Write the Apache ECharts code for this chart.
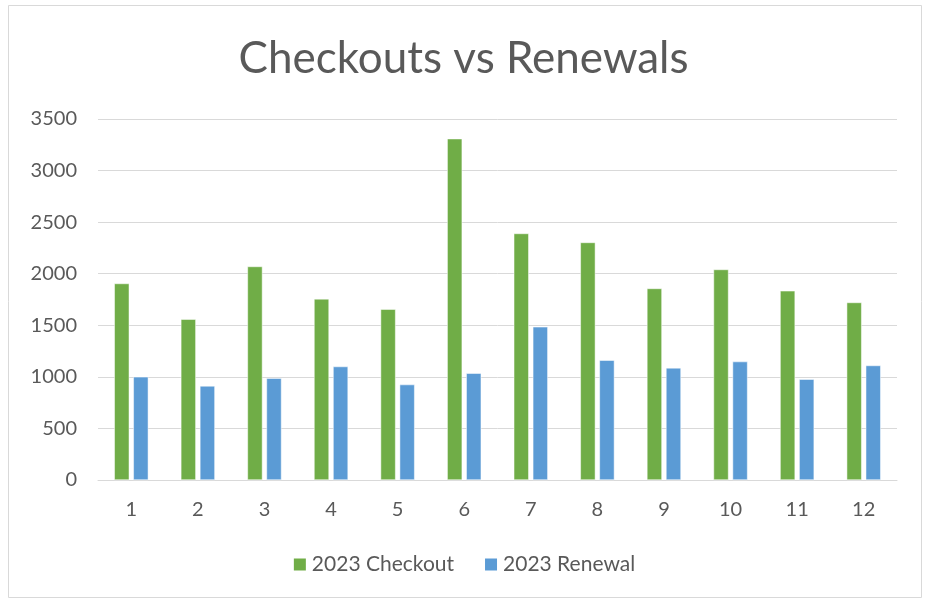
<!DOCTYPE html>
<html>
<head>
<meta charset="utf-8">
<script src="https://cdn.jsdelivr.net/npm/echarts@6/dist/echarts.min.js"></script>
<style>
html,body{margin:0;padding:0;background:#fff;}
#chart{width:927px;height:603px;}
</style>
</head>
<body>
<div id="chart"></div>
<script>
const categories = ['1','2','3','4','5','6','7','8','9','10','11','12'];
const checkout2023 = [1905, 1559, 2070, 1756, 1656, 3309, 2390, 2303, 1857, 2041, 1834, 1721];
const renewal2023 = [1000, 912, 987, 1100, 925, 1035, 1485, 1161, 1087, 1148, 977, 1110];
const yTicks = [0, 500, 1000, 1500, 2000, 2500, 3000, 3500];

const chart = echarts.init(document.getElementById('chart'));
const font = 'Lato, "Open Sans", sans-serif';
chart.setOption({
  animation: false,
  backgroundColor: '#fff',
  graphic: [{
    type: 'rect',
    shape: {x: 8.5, y: 5.5, width: 913, height: 592},
    style: {fill: 'none', stroke: '#d9d9d9', lineWidth: 1},
    silent: true
  }],
  title: {
    text: 'Checkouts vs Renewals',
    left: 'center',
    top: 32,
    textStyle: {fontFamily: font, fontSize: 44, fontWeight: 'normal', color: '#595959'}
  },
  legend: {
    top: 549,
    left: 'center',
    itemWidth: 14,
    itemHeight: 14,
    itemGap: 29,
    icon: 'rect',
    textStyle: {fontFamily: font, fontSize: 21, color: '#595959'},
    data: ['2023 Checkout', '2023 Renewal']
  },
  grid: {left: 98, right: 30, top: 119, bottom: 123, containLabel: false},
  xAxis: {
    type: 'category',
    data: categories,
    axisLine: {lineStyle: {color: '#d9d9d9', width: 1}},
    axisTick: {show: false},
    axisLabel: {fontFamily: font, fontSize: 20, color: '#595959', margin: 20}
  },
  yAxis: {
    type: 'value',
    min: yTicks[0],
    max: yTicks[yTicks.length - 1],
    interval: 500,
    axisLine: {show: false},
    axisTick: {show: false},
    splitLine: {lineStyle: {color: '#d9d9d9', width: 1}},
    axisLabel: {fontFamily: font, fontSize: 20, color: '#595959', margin: 21,
      formatter: function (v) { return String(v); }}
  },
  series: [
    {
      name: '2023 Checkout',
      type: 'bar',
      data: checkout2023,
      barWidth: 15,
      barGap: '27%',
      itemStyle: {color: '#70AD47', borderColor: '#fff', borderWidth: 0.5}
    },
    {
      name: '2023 Renewal',
      type: 'bar',
      data: renewal2023,
      barWidth: 15,
      itemStyle: {color: '#5B9BD5', borderColor: '#fff', borderWidth: 0.5}
    }
  ]
});
</script>
</body>
</html>
